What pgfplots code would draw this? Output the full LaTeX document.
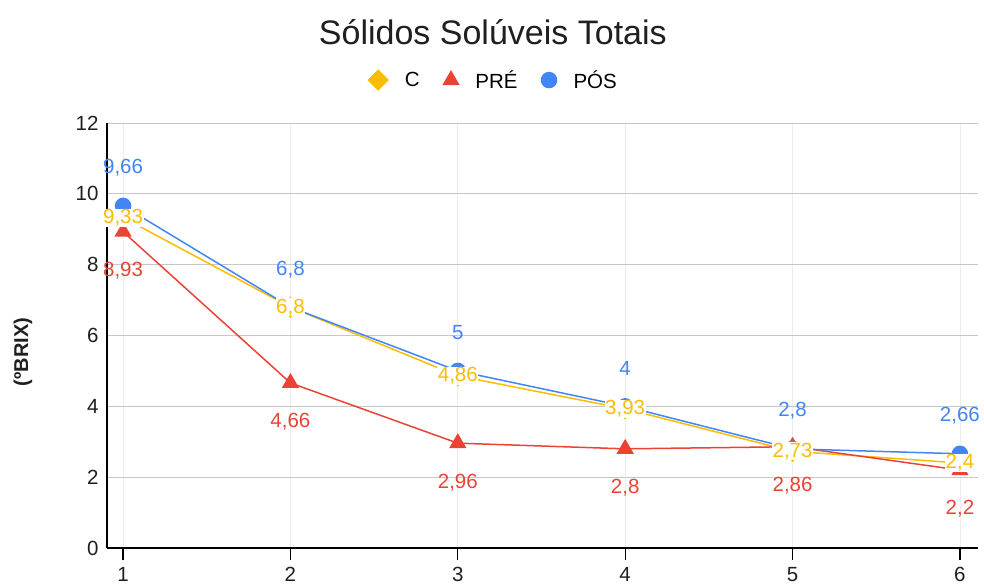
\documentclass[border=0pt]{standalone}
\usepackage{pgfplots}
\usepackage{pgfplotstable}
\pgfplotsset{compat=1.18}
\usepackage{fontspec}
\setmainfont{Liberation Sans}
\definecolor{cY}{HTML}{FBBC04}
\definecolor{cR}{HTML}{EA4335}
\definecolor{cB}{HTML}{4285F4}
\pgfplotstableread{
x C PRE POS
1 9.33 8.93 9.66
2 6.8 4.66 6.8
3 4.86 2.96 5
4 3.93 2.8 4
5 2.73 2.86 2.8
6 2.4 2.2 2.66
}\data
\newcommand{\lf}{\fontsize{20.5}{24}\selectfont}
\begin{document}
\begin{tikzpicture}
\path[use as bounding box] (0,0) rectangle (984pt,586pt);
\begin{axis}[
  at={(107pt,38pt)}, anchor=south west,
  scale only axis, width=871pt, height=425pt,
  xmin=0.904, xmax=6.108, ymin=0, ymax=12,
  xtick={1,...,6}, ytick={0,2,...,12},
  axis x line*=bottom, axis y line*=left,
  axis line style={black, line width=1.2pt},
  ymajorgrids, xmajorgrids,
  y grid style={black!22, line width=0.8pt},
  x grid style={black!7, line width=0.8pt},
  tick align=outside, major tick length=12pt,
  xtick style={black, line width=1.2pt},
  ytick style={draw=none},
  tick label style={font=\lf, text=black!88},
  yticklabel style={xshift=7pt},
  xticklabel style={yshift=-4pt},
  /pgf/number format/assume math mode=true,
  /pgf/number format/use comma,
  /pgf/number format/precision=2,
  legend style={at={(0.444,1.101)}, anchor=center, draw=none, fill=none,
    font=\lf, /tikz/every even column/.append style={column sep=22pt},
    /tikz/every odd column/.append style={column sep=15pt}},
  legend columns=3,
  legend image code/.code={\draw[#1] plot coordinates {(0pt,0pt)};},
  clip=false,
]
\addplot[cY, line width=1.5pt, mark=square*, mark size=6.8pt, mark options={rotate=45}] table[x=x,y=C]{\data};
\addlegendentry{C}
\addplot[cR, line width=1.5pt, mark=triangle*, mark size=8.5pt] table[x=x,y=PRE]{\data};
\addlegendentry{PRÉ}
\addplot[cB, line width=1.5pt, mark=*, mark size=7.5pt] table[x=x,y=POS]{\data};
\addlegendentry{PÓS}
% data labels
\addplot[draw=none, mark=none, forget plot, nodes near coords, nodes near coords align={center},
  every node near coord/.append style={text=cB, font=\lf, anchor=center, yshift=38pt}]
  table[x=x,y=POS]{\data};
\addplot[draw=none, mark=none, forget plot, nodes near coords, nodes near coords align={center},
  every node near coord/.append style={text=cR, font=\lf, anchor=center, yshift=-39pt}]
  table[x=x,y=PRE]{\data};
\addplot[draw=none, mark=none, forget plot, nodes near coords, nodes near coords align={center},
  every node near coord/.append style={text=cY, font=\lf, anchor=center, fill=white, inner sep=0.5pt}]
  table[x=x,y=C]{\data};
\node[font=\fontsize{34}{40}\selectfont, text=black!88] at (axis description cs:0.443,1.214) {Sólidos Solúveis Totais};
\end{axis}
\node[rotate=90, font=\bfseries\fontsize{20}{24}\selectfont, text=black!88] at (23pt,234pt) {(ºBRIX)};
\end{tikzpicture}
\end{document}
